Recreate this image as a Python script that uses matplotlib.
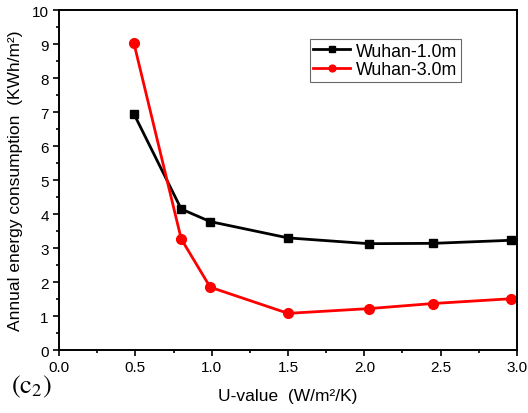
import numpy as np
import matplotlib
matplotlib.use('Agg')
import matplotlib.pyplot as plt
from matplotlib.ticker import MultipleLocator

plt.rcParams['font.family'] = ['Liberation Sans', 'DejaVu Sans']
plt.rcParams['mathtext.fontset'] = 'stix'

# data
u_value = [0.49, 0.80, 0.99, 1.50, 2.03, 2.45, 2.96]
wuhan_1m = [6.95, 4.15, 3.78, 3.30, 3.13, 3.14, 3.23]
wuhan_3m = [9.03, 3.27, 1.85, 1.08, 1.22, 1.37, 1.51]

fig = plt.figure(figsize=(5.28, 4.14), dpi=100)
ax = fig.add_axes([0.112, 0.152, 0.867, 0.821])

ax.plot(u_value, wuhan_1m, color='black', marker='s', markersize=6, linewidth=2, label='Wuhan-1.0m')
ax.plot(u_value, wuhan_3m, color='red', marker='o', markersize=7, linewidth=2, label='Wuhan-3.0m')

ax.set_xlim(0, 3.0)
ax.set_ylim(0, 10)
ax.xaxis.set_major_locator(MultipleLocator(0.5))
ax.xaxis.set_minor_locator(MultipleLocator(0.25))
ax.yaxis.set_major_locator(MultipleLocator(1))
ax.yaxis.set_minor_locator(MultipleLocator(0.5))
ax.xaxis.set_major_formatter(plt.FormatStrFormatter('%.1f'))

ax.tick_params(which='both', direction='out', labelsize=11, width=1.2, top=False, right=False)
ax.tick_params(which='major', length=4)
ax.tick_params(which='minor', length=2.5)
for s in ax.spines.values():
  s.set_linewidth(1.4)

ax.set_xlabel('U-value  (W/m²/K)', fontsize=12.5, labelpad=10)
ax.set_ylabel('Annual energy consumption  (KWh/m²)', fontsize=12.5, labelpad=6)

leg = ax.legend(loc='upper left', bbox_to_anchor=(0.547, 0.915), fontsize=12.8, frameon=True,
                fancybox=False, edgecolor='#444444', borderpad=0.2, handlelength=2.1,
                handletextpad=0.3, labelspacing=0.1, borderaxespad=0, markerscale=0.7)
leg.get_frame().set_linewidth(0.8)

fig.text(0.02, 0.05, r'$\mathrm{(c_{2})}$', fontsize=19)

fig.savefig('out.png', dpi=100)
